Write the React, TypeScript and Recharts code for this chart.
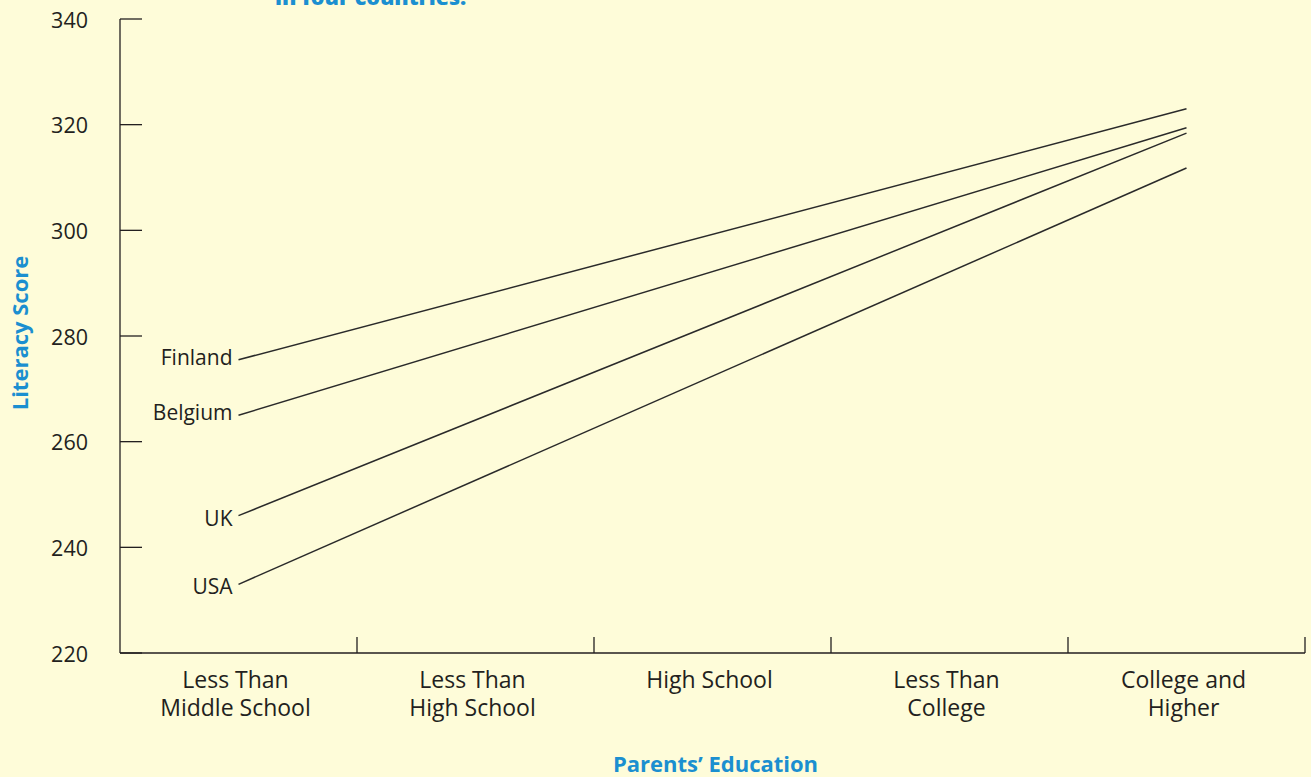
import { LineChart, Line, XAxis, YAxis, Label, LabelList } from "recharts";

// Parents' education categories (x axis)
const categories = [
  "Less Than|Middle School",
  "Less Than|High School",
  "High School",
  "Less Than|College",
  "College and|Higher",
];

// Literacy scores, only the two end points are plotted in the source
const finland = [275.5, null, null, null, 323];
const belgium = [265, null, null, null, 319.4];
const uk = [246, null, null, null, 318.4];
const usa = [233, null, null, null, 311.8];

const countries = ["Finland", "Belgium", "UK", "USA"];
const yTicks = [220, 240, 260, 280, 300, 320, 340];

// category centres sit at i + 0.5, boundaries at whole numbers
const xTicks = [0.5, 1, 1.5, 2, 2.5, 3, 3.5, 4, 4.5, 5];

const BG = "#fefcd9";
const INK = "#231f20";
const BLUE = "#1b8fd0";
const FONT = "'Open Sans', 'Noto Sans', sans-serif";

const data = categories.map((c, i) => ({
  pos: i + 0.5,
  name: c,
  Finland: finland[i],
  Belgium: belgium[i],
  UK: uk[i],
  USA: usa[i],
}));

// small nudges so the country names sit like in the original
const labelDy: Record<string, number> = { Finland: -3, Belgium: -3, UK: 2, USA: 2 };

const YTick = ({ x, y, payload }: any) => (
  <g>
    <line x1={x} y1={y} x2={x + 22} y2={y} stroke={INK} strokeWidth={1.3} />
    <text
      x={x - 32}
      y={y}
      textAnchor="end"
      dominantBaseline="central"
      fill={INK}
      fontSize={21.5}
      fontFamily={FONT}
    >
      {payload.value}
    </text>
  </g>
);

const XTick = ({ x, y, payload }: any) => {
  const v = payload.value;
  if (Number.isInteger(v)) {
    if (v === 0) return null;
    return <line x1={x} y1={y} x2={x} y2={y - 16} stroke={INK} strokeWidth={1.3} />;
  }
  const lines = categories[Math.floor(v)].split("|");
  return (
    <text textAnchor="middle" fill={INK} fontSize={23} fontFamily={FONT}>
      {lines.map((l, i) => (
        <tspan key={i} x={x - 3} y={y + 35 + i * 28}>
          {l}
        </tspan>
      ))}
    </text>
  );
};

const countryLabel = (name: string) => (props: any) => {
  const { x, y, index } = props;
  if (index !== 0) return null;
  return (
    <text
      x={x - 6}
      y={y + labelDy[name]}
      textAnchor="end"
      dominantBaseline="central"
      fill={INK}
      fontSize={21}
      fontFamily={FONT}
    >
      {name}
    </text>
  );
};

export default function App() {
  return (
    <div
      style={{
        position: "absolute",
        left: 0,
        top: 0,
        width: 1311,
        height: 777,
        background: BG,
        overflow: "hidden",
      }}
    >
      <div
        style={{
          position: "absolute",
          left: 275,
          top: -18,
          color: BLUE,
          fontFamily: FONT,
          fontWeight: 800,
          fontSize: 21.5,
          whiteSpace: "nowrap",
        }}
      >
        in four countries.
      </div>
      <LineChart
        width={1311}
        height={777}
        data={data}
        margin={{ top: 19, right: 6, left: 60, bottom: 94 }}
      >
        <XAxis
          dataKey="pos"
          type="number"
          domain={[0, 5]}
          ticks={xTicks}
          interval={0}
          tick={<XTick />}
          tickLine={false}
          tickSize={0}
          tickMargin={0}
          axisLine={{ stroke: INK, strokeWidth: 1.3 }}
          height={30}
        >
          <Label
            content={({ viewBox }: any) => (
              <text
                x={viewBox.x + viewBox.width / 2 + 3}
                y={772}
                textAnchor="middle"
                fill={BLUE}
                fontSize={22}
                fontWeight={700}
                fontFamily={FONT}
              >
                Parents’ Education
              </text>
            )}
          />
        </XAxis>
        <YAxis
          type="number"
          domain={[220, 340]}
          ticks={yTicks}
          interval={0}
          width={60}
          tick={<YTick />}
          tickLine={false}
          tickSize={0}
          tickMargin={0}
          axisLine={{ stroke: INK, strokeWidth: 1.3 }}
        >
          <Label
            content={({ viewBox }: any) => {
              const cx = viewBox.x - 41;
              const cy = viewBox.y + viewBox.height / 2 - 3;
              return (
                <text
                  x={cx}
                  y={cy}
                  transform={`rotate(-90, ${cx}, ${cy})`}
                  textAnchor="middle"
                  dominantBaseline="central"
                  fill={BLUE}
                  fontSize={22}
                  fontWeight={700}
                  fontFamily={FONT}
                >
                  Literacy Score
                </text>
              );
            }}
          />
        </YAxis>
        {countries.map((c) => (
          <Line
            key={c}
            type="linear"
            dataKey={c}
            stroke="#2a2a2a"
            strokeWidth={1.5}
            dot={false}
            activeDot={false}
            connectNulls
            isAnimationActive={false}
          >
            <LabelList dataKey={c} content={countryLabel(c)} />
          </Line>
        ))}
      </LineChart>
    </div>
  );
}
